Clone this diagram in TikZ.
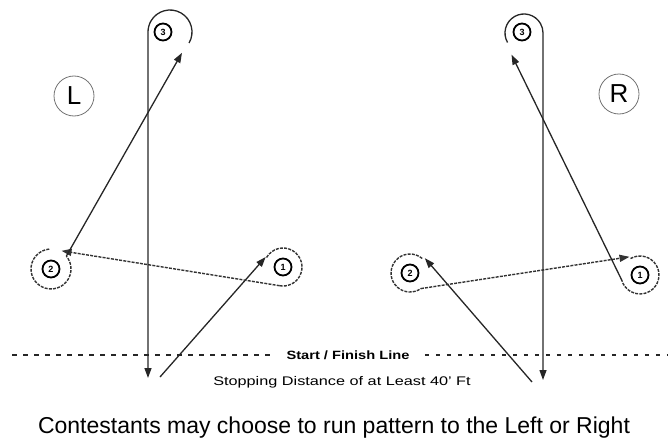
\documentclass[tikz,border=0pt]{standalone}
\usepackage{fontspec}
\setmainfont{Liberation Sans}
\usetikzlibrary{arrows.meta,calc}
\begin{document}
\begin{tikzpicture}[x=1pt,y=-1pt,
  route/.style={line width=1.3pt, draw=black!85},
  tip/.style={-{Triangle[length=10pt,width=7pt]}},
  ring/.style={line width=1.4pt, draw=black!80, dash pattern=on 3pt off 1.2pt},
  num/.style={circle, draw, line width=1.8pt, minimum size=17pt, inner sep=0pt, font=\fontsize{9}{9}\selectfont\bfseries},
  side/.style={circle, draw=black!55, line width=0.8pt, minimum size=40pt, inner sep=0pt, font=\fontsize{26}{26}\selectfont},
  finish/.style={line width=2.2pt, draw=black!85, dash pattern=on 4.5pt off 6.5pt}]
\useasboundingbox (0,0) rectangle (668,444);

% ---------- left pattern ----------
\node[side] (Lside) at (74,96) {L};
\node[num] (L1) at (283,267) {1};
\node[num] (L2) at (51,269) {2};
\node[num] (L3) at (163,32) {3};
\coordinate (L3o) at (170,32);
\coordinate (LS) at (160,377);
\coordinate (LE) at (148,378);

\draw[route,tip] (LS) -- ($(L1)+(-150:20)$);
\draw[ring] (L1) ++(-150:19) arc[start angle=-150,end angle=100,radius=19];
\draw[ring,tip] ($(L1)+(100:19)$) -- ($(L2)+(-60:21)$);
\draw[ring] (L2) ++(-95:20) arc[start angle=-95,end angle=-400,radius=20];
\draw[route,tip] ($(L2)+(-40:20)$) -- ($(L3o)+(60:24)$);
\draw[route,tip] ($(L3o)+(30:22)$) arc[start angle=30,end angle=-180,radius=22] -- (LE);

% ---------- right pattern ----------
\node[side] (Rside) at (619,94) {R};
\node[num] (R1) at (640,275) {1};
\node[num] (R2) at (410,273) {2};
\node[num] (R3) at (522,32) {3};
\coordinate (R3o) at (524,33);
\coordinate (RS) at (532,382);
\coordinate (RE) at (543,380);

\draw[route,tip] (RS) -- ($(R2)+(-45:21)$);
\draw[ring] (R2) ++(-50:19) arc[start angle=-50,end angle=-305,radius=19];
\draw[ring,tip] ($(R2)+(55:19)$) -- ($(R1)+(-120:21)$);
\draw[ring] (R1) ++(-120:19) arc[start angle=-120,end angle=165,radius=19];
\draw[route,tip] ($(R1)+(165:19)$) -- ($(R3o)+(120:25)$);
\draw[route,tip] ($(R3o)+(150:19)$) arc[start angle=150,end angle=360,radius=19] -- (RE);

% ---------- start / finish line ----------
\node[font=\fontsize{12}{12}\selectfont\bfseries] (SF) at (348,355) {\scalebox{1.22}[1]{Start / Finish Line}};
\coordinate (DL) at (12,355);
\coordinate (DR) at (668,355);
\draw[finish] (DL) -- ([xshift=-9pt]SF.west);
\draw[finish] ([xshift=12pt]SF.east) -- (DR);
\node[font=\fontsize{12.5}{12.5}\selectfont] (stop) at (342,382) {\scalebox{1.3}[1]{Stopping Distance of at Least 40' Ft}};

\node[font=\fontsize{23}{23}\selectfont] (cap) at (334,428) {Contestants may choose to run pattern to the Left or Right};
\end{tikzpicture}
\end{document}
